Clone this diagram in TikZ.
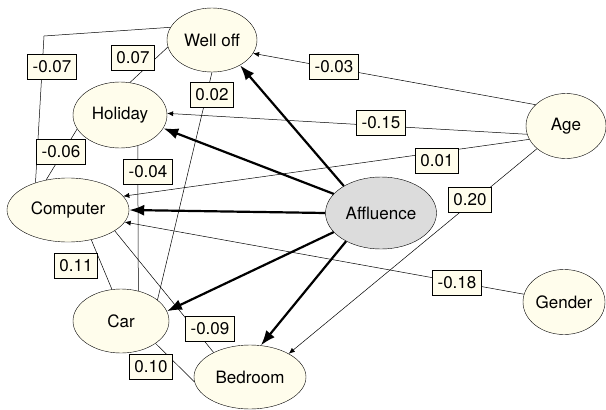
\documentclass[tikz,border=0pt]{standalone}
\usepackage{fontspec}
\setmainfont{TeX Gyre Heros}
\usetikzlibrary{shapes.geometric, arrows.meta}

\definecolor{cream}{RGB}{255,253,236}
\definecolor{latgray}{RGB}{220,220,220}

\begin{document}
\begin{tikzpicture}[
    x=1pt, y=-1pt,
    every node/.style={font=\fontsize{17}{20}\selectfont},
    var/.style={ellipse, draw, thin, fill=cream, inner sep=0pt, minimum height=64pt},
    latent/.style={var, fill=latgray},
    lbl/.style={rectangle, draw, thin, fill=cream, inner xsep=5pt, minimum height=25pt},
    load/.style={line width=2.2pt, -{Latex[length=15pt,width=11pt]}},
    eff/.style={line width=0.5pt, -{Latex[length=6pt,width=5pt]}},
    cor/.style={line width=0.5pt}
]
\useasboundingbox (0,0) rectangle (606,410);

% variables
\node (welloff) [var, minimum width=90pt] at (212,40) {Well off};
\node (holiday) [var, minimum width=94pt, minimum height=66pt] at (120,115) {Holiday};
\node (computer) [var, minimum width=122pt] at (68,210) {Computer};
\node (car) [var, minimum width=96pt] at (121,321) {Car};
\node (bedroom) [var, minimum width=112pt] at (250,377) {Bedroom};
\node (affluence) [latent, minimum width=111pt, minimum height=72pt] at (381,213) {Affluence};
\node (age) [var, minimum width=80pt, minimum height=65pt] at (566,126) {Age};
\node (gender) [var, minimum width=82pt, minimum height=65pt] at (564,302) {Gender};
\coordinate (bend) at (44,36);

% correlations
\draw[cor] (welloff.163) -- (bend) -- (computer.140);
\draw[cor] (welloff.189) -- (holiday.73);
\draw[cor] (welloff.270) -- (car.30);
\draw[cor] (holiday.198) -- (computer.126);
\draw[cor] (holiday.-60) -- (car.60);
\draw[cor] (computer.-52) -- (car.106);
\draw[cor] (computer.-24) -- (bedroom.146);
\draw[cor] (car.-33) -- (bedroom.185);

% age and gender
\draw[eff] (age.145) -- (welloff.-18);
\draw[eff] (age.192) -- (holiday.2);
\draw[eff] (age.200) -- (computer.14);
\draw[eff] (age.-142) -- (bedroom.31);
\draw[eff] (gender.169) -- (computer.-12);

% loadings
\draw[load] (affluence.144) -- (welloff.-42);
\draw[load] (affluence.158) -- (holiday.-17);
\draw[load] (affluence.180) -- (computer.0);
\draw[load] (affluence.-158) -- (car.12);
\draw[load] (affluence.-141) -- (bedroom.71);

% coefficients
\node (cwc) [lbl] at (52,67) {-0.07};
\node (cwh) [lbl] at (133,58) {0.07};
\node (cwcar) [lbl] at (212,95) {0.02};
\node (chc) [lbl] at (61,152) {-0.06};
\node (chcar) [lbl] at (148,172) {-0.04};
\node (cccar) [lbl] at (76,266) {0.11};
\node (ccb) [lbl] at (210,329) {-0.09};
\node (ccarb) [lbl] at (151,367) {0.10};
\node (aw) [lbl] at (334,67) {-0.03};
\node (ah) [lbl] at (381,123) {-0.15};
\node (ac) [lbl] at (437,161) {0.01};
\node (ab) [lbl] at (470,200) {0.20};
\node (gc) [lbl] at (457,283) {-0.18};
\end{tikzpicture}
\end{document}
